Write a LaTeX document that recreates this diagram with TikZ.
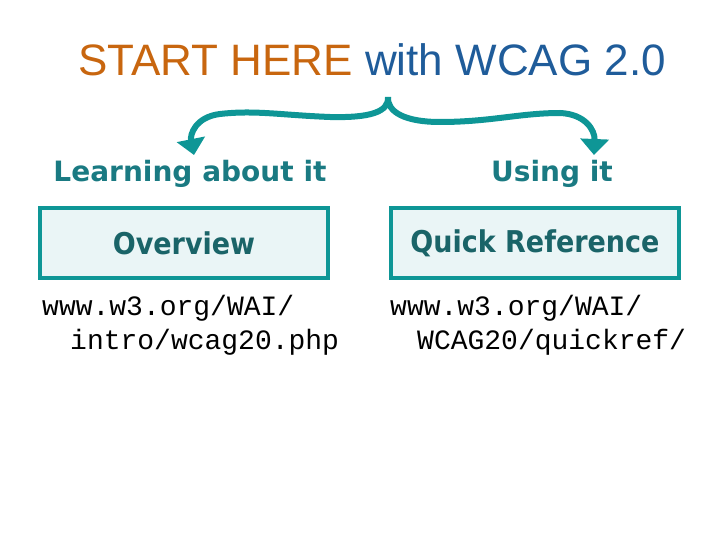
\documentclass[tikz,border=0pt]{standalone}
\usepackage{fontspec}
\setmainfont{Liberation Sans}
\newfontfamily\lblfont{DejaVu Sans}
\newfontfamily\boxfont{DejaVu Sans Condensed}
\newfontfamily\urlfont{Liberation Mono}
\usetikzlibrary{arrows.meta}
\definecolor{tealc}{HTML}{0E9696}
\definecolor{orangec}{HTML}{C8660F}
\definecolor{bluec}{HTML}{1F5C9A}
\definecolor{lblc}{HTML}{1A7A82}
\definecolor{boxtc}{HTML}{1A6468}
\definecolor{boxfill}{HTML}{EAF5F6}
\tikzset{
 lbl/.style={font=\lblfont\bfseries\fontsize{28}{32}\selectfont, text=lblc},
 bx/.style={draw=tealc, line width=4pt, fill=boxfill, minimum width=288pt, minimum height=70pt, font=\boxfont\bfseries\fontsize{30}{34}\selectfont, text=boxtc},
 url/.style={font=\urlfont\fontsize{28}{34}\selectfont, align=left, anchor=north west, inner sep=0pt},
 brace/.style={draw=tealc, line width=6pt, -{Triangle[length=16pt,width=28pt]}}
}
\begin{document}
\begin{tikzpicture}[x=1pt,y=-1pt]
\useasboundingbox (0,0) rectangle (720,540);
\node (title) at (372,60) {\fontsize{44}{48}\selectfont\color{orangec}START HERE \color{bluec}with WCAG 2.0};
\coordinate (peak) at (388,97);
\coordinate (lend) at (194,155);
\coordinate (rend) at (594,155);
\draw[brace] (peak) .. controls (389,112) and (370,118) .. (330,117) .. controls (280,115) and (255,110) .. (220,114) .. controls (195,117) and (190,135) .. (lend);
\draw[brace] (peak) .. controls (387,112) and (405,122) .. (440,122) .. controls (490,122) and (520,113) .. (560,113) .. controls (585,114) and (595,130) .. (rend);
\node[lbl] (l1) at (190,174) {Learning about it};
\node[lbl] (l2) at (552,174) {Using it};
\node[bx] (b1) at (184,243) {Overview};
\node[bx] (b2) at (535,243) {Quick Reference};
\node[url] (u1) at (42,295) {www.w3.org/WAI/\\\hspace*{28pt}intro/wcag20.php};
\node[url] (u2) at (390,295) {www.w3.org/WAI/\\\hspace*{27pt}WCAG20/quickref/};
\end{tikzpicture}
\end{document}
